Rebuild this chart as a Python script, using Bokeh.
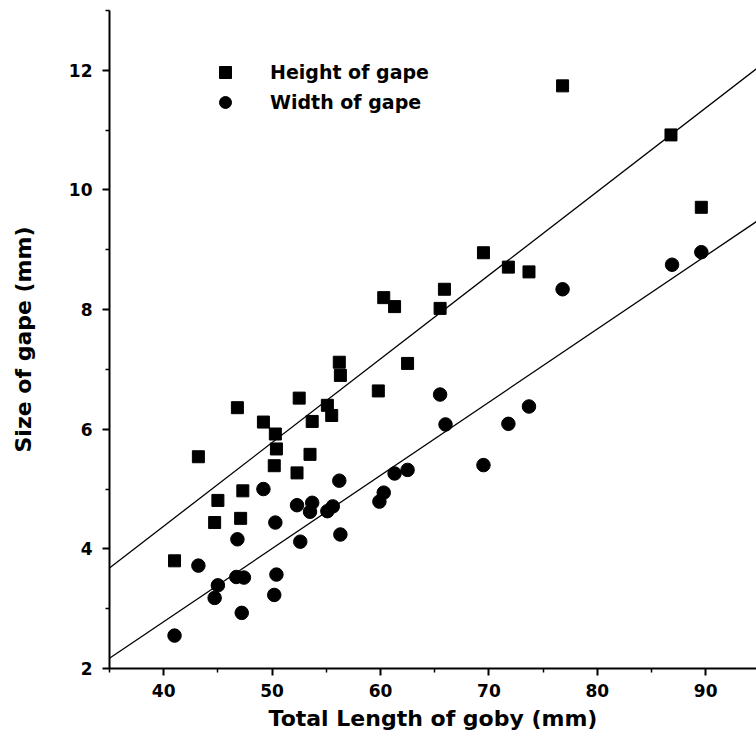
from bokeh.plotting import figure
from bokeh.models import FixedTicker, Range1d, Legend, LegendItem
from bokeh.embed import file_html
from bokeh.resources import INLINE

# Height of gape (squares)
height_len = [41.0, 43.2, 44.7, 45.0, 46.8, 47.1, 47.3, 49.2, 50.2, 50.3, 50.4,
              52.3, 52.5, 53.5, 53.7, 55.1, 55.5, 56.2, 56.3, 59.8, 60.3, 61.3,
              62.5, 65.5, 65.9, 69.5, 71.8, 73.7, 76.8, 86.8, 89.6]
height_gape = [3.80, 5.54, 4.44, 4.81, 6.36, 4.51, 4.97, 6.12, 5.39, 5.92, 5.67,
               5.27, 6.52, 5.58, 6.13, 6.40, 6.23, 7.12, 6.90, 6.64, 8.20, 8.05,
               7.10, 8.02, 8.34, 8.95, 8.71, 8.63, 11.74, 10.92, 9.71]

# Width of gape (circles)
width_len = [41.0, 43.2, 44.7, 45.0, 46.7, 46.8, 47.2, 47.4, 49.2, 50.2, 50.3,
             50.4, 52.3, 52.6, 53.5, 53.7, 55.1, 55.6, 56.2, 56.3, 59.9, 60.3,
             61.3, 62.5, 65.5, 66.0, 69.5, 71.8, 73.7, 76.8, 86.9, 89.6]
width_gape = [2.55, 3.72, 3.18, 3.39, 3.53, 4.16, 2.93, 3.52, 5.00, 3.23, 4.44,
              3.57, 4.73, 4.12, 4.62, 4.77, 4.63, 4.71, 5.14, 4.24, 4.79, 4.94,
              5.26, 5.32, 6.58, 6.08, 5.40, 6.09, 6.38, 8.34, 8.75, 8.96]

# Regression lines
fit_len = [35, 95]
height_fit = [3.68, 12.07]
width_fit = [2.17, 9.51]

x_major = [40, 50, 60, 70, 80, 90]
x_minor = [35, 45, 55, 65, 75, 85, 95]
y_major = [2, 4, 6, 8, 10, 12]
y_minor = [3, 5, 7, 9, 11, 13]

FONT = "DejaVu Sans"

p = figure(width=756, height=748, output_backend="svg", toolbar_location=None,
           x_range=Range1d(35, 94.69), y_range=Range1d(2, 13),
           min_border_left=109, min_border_right=0, min_border_top=10,
           min_border_bottom=80)
p.outline_line_color = None
p.xgrid.visible = False
p.ygrid.visible = False
p.background_fill_color = "white"
p.border_fill_color = "white"

p.line(fit_len, height_fit, line_color="black", line_width=1.3)
p.line(fit_len, width_fit, line_color="black", line_width=1.3)

r_h = p.scatter(height_len, height_gape, marker="square", size=12,
                fill_color="black", line_color="black")
r_w = p.scatter(width_len, width_gape, marker="circle", size=13.5,
                fill_color="black", line_color="black")

for ax in (p.xaxis[0], p.yaxis[0]):
    ax.axis_line_width = 2
    ax.axis_line_color = "black"
    ax.major_tick_line_width = 2
    ax.minor_tick_line_width = 1.5
    ax.major_tick_in = 0
    ax.major_tick_out = 7
    ax.minor_tick_in = 0
    ax.minor_tick_out = 4
    ax.major_label_text_font = FONT
    ax.major_label_text_font_style = "bold"
    ax.major_label_text_font_size = "17px"
    ax.major_label_text_color = "black"
    ax.axis_label_text_font = FONT
    ax.axis_label_text_font_style = "bold"
    ax.axis_label_text_font_size = "22px"
    ax.axis_label_text_color = "black"

p.xaxis[0].ticker = FixedTicker(ticks=x_major, minor_ticks=x_minor)
p.yaxis[0].ticker = FixedTicker(ticks=y_major, minor_ticks=y_minor)
p.xaxis[0].axis_label = "Total Length of goby (mm)"
p.yaxis[0].axis_label = "Size of gape (mm)"
p.xaxis[0].major_label_standoff = 8
p.yaxis[0].major_label_standoff = 10
p.xaxis[0].axis_label_standoff = 6
p.yaxis[0].axis_label_standoff = 30

legend = Legend(items=[LegendItem(label="Height of gape", renderers=[r_h]),
                       LegendItem(label="Width of gape", renderers=[r_w])],
                location=(101, 551), glyph_width=30, glyph_height=30,
                label_standoff=30, spacing=0, padding=0, margin=0,
                border_line_color=None, background_fill_alpha=0,
                label_text_font=FONT, label_text_font_style="bold",
                label_text_font_size="19px", label_text_color="black")
p.add_layout(legend)

open("out.html", "w").write(file_html(p, INLINE))
